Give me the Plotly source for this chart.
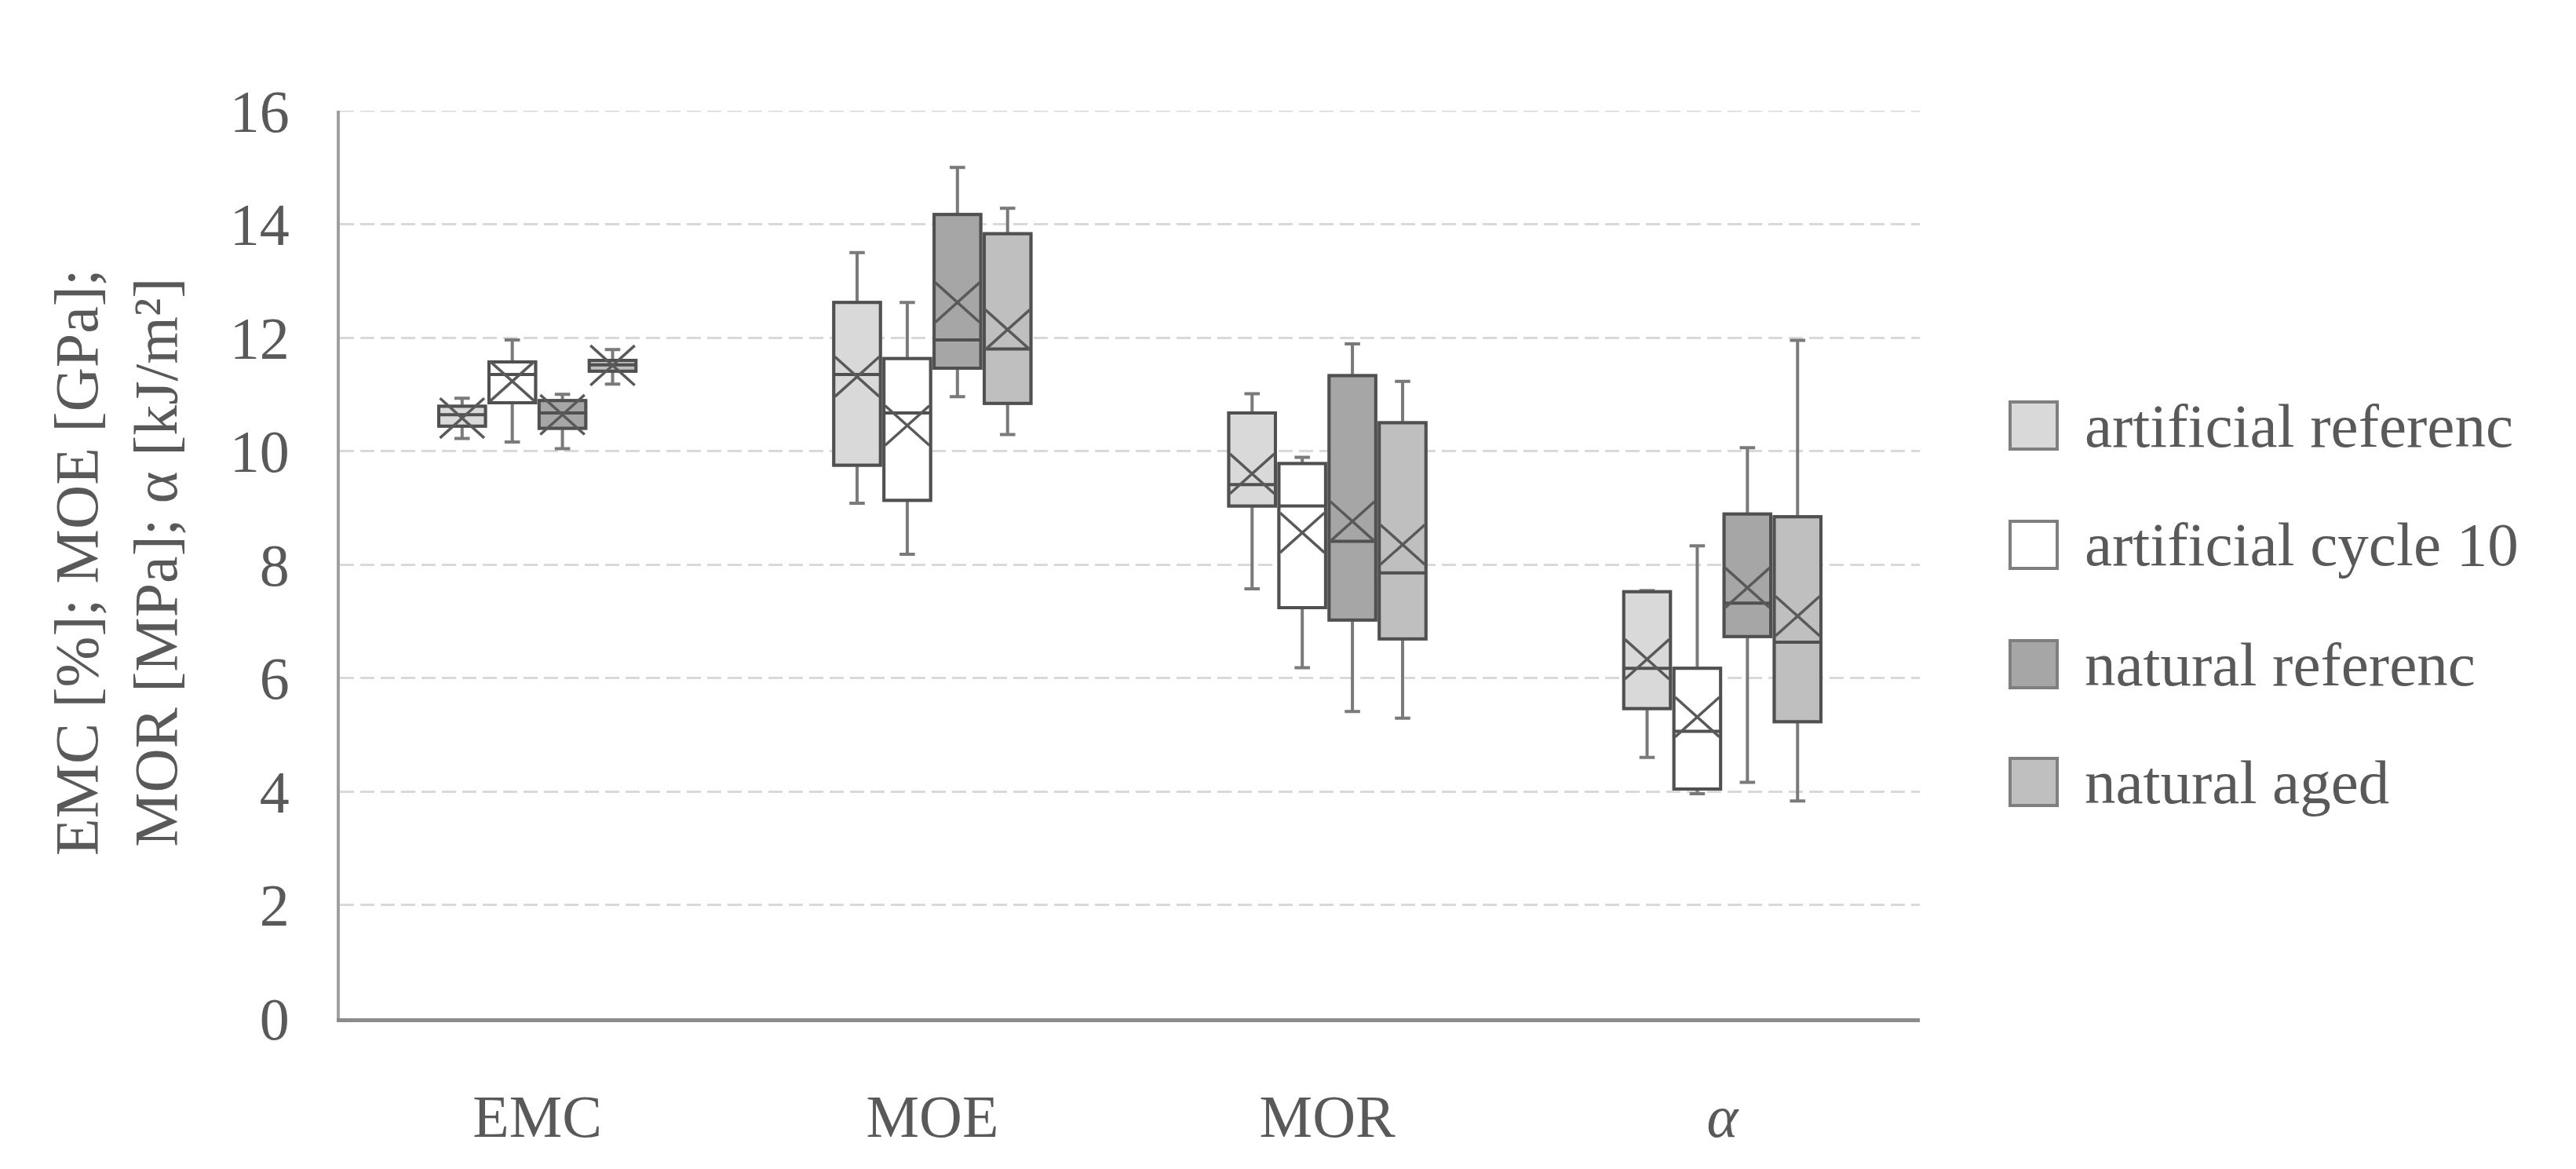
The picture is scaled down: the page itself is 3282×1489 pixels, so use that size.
import plotly.graph_objects as go

# ---------------- data ----------------
CATEGORIES = ["EMC", "MOE", "MOR", "<i>α</i>"]
SERIES = ["artificial referenc", "artificial cycle 10", "natural referenc", "natural aged"]

art_ref_lower = [10.22, 9.08, 7.57, 4.60]
art_ref_q1 = [10.44, 9.75, 9.03, 5.46]
art_ref_median = [10.64, 11.35, 9.41, 6.17]
art_ref_q3 = [10.79, 12.62, 10.67, 7.52]
art_ref_upper = [10.93, 13.50, 11.01, 7.54]
art_ref_mean = [10.58, 11.31, 9.60, 6.33]

art_cyc_lower = [10.16, 8.18, 6.18, 3.96]
art_cyc_q1 = [10.85, 9.13, 7.24, 4.04]
art_cyc_median = [11.35, 10.67, 9.03, 5.06]
art_cyc_q3 = [11.57, 11.63, 9.78, 6.17]
art_cyc_upper = [11.96, 12.62, 9.89, 8.33]
art_cyc_mean = [11.23, 10.45, 8.56, 5.31]

nat_ref_lower = [10.04, 10.96, 5.41, 4.16]
nat_ref_q1 = [10.40, 11.46, 7.02, 6.73]
nat_ref_median = [10.67, 11.96, 8.41, 7.32]
nat_ref_q3 = [10.89, 14.17, 11.33, 8.89]
nat_ref_upper = [11.00, 15.00, 11.89, 10.06]
nat_ref_mean = [10.64, 12.62, 8.76, 7.59]

nat_aged_lower = [11.18, 10.29, 5.29, 3.83]
nat_aged_q1 = [11.41, 10.84, 6.69, 5.23]
nat_aged_median = [11.52, 11.80, 7.85, 6.63]
nat_aged_q3 = [11.60, 13.83, 10.50, 8.84]
nat_aged_upper = [11.79, 14.28, 11.23, 11.95]
nat_aged_mean = [11.51, 12.14, 8.35, 7.09]

Y_TICKS = [0, 2, 4, 6, 8, 10, 12, 14, 16]

# ---------------- styling ----------------
FILLS = ["#d9d9d9", "#ffffff", "#a6a6a6", "#bfbfbf"]
BOX_LINE = "#505050"
WHISKER = "#7a7a7a"
XLINE = "#595959"
TEXT = "#595959"
FONT = "Liberation Serif"
FS = 76
LEG_FS = 79

W, H = 3282, 1489
PL, PR, PT, PB = 425, 2438, 133, 1289  # plot area in pixels

BOX_W = 0.118
STEP = 0.127
X_HALF_H = 0.35

stats = [
    (art_ref_lower, art_ref_q1, art_ref_median, art_ref_q3, art_ref_upper, art_ref_mean),
    (art_cyc_lower, art_cyc_q1, art_cyc_median, art_cyc_q3, art_cyc_upper, art_cyc_mean),
    (nat_ref_lower, nat_ref_q1, nat_ref_median, nat_ref_q3, nat_ref_upper, nat_ref_mean),
    (nat_aged_lower, nat_aged_q1, nat_aged_median, nat_aged_q3, nat_aged_upper, nat_aged_mean),
]

fig = go.Figure()
cat_idx = list(range(len(CATEGORIES)))

for s, (name, st) in enumerate(zip(SERIES, stats)):
    lo, q1, med, q3, up, mean = st
    off = (s - (len(SERIES) - 1) / 2) * STEP
    xs = [i + off for i in cat_idx]
    # whiskers (lighter grey)
    fig.add_trace(go.Box(
        name=name, x=xs, q1=q1, median=med, q3=q3,
        lowerfence=lo, upperfence=up,
        width=BOX_W, whiskerwidth=0.33,
        fillcolor=FILLS[s], line=dict(color=WHISKER, width=4),
        boxpoints=False, showlegend=False, hoverinfo="skip",
    ))
    # box body and median (darker outline)
    fig.add_trace(go.Box(
        name=name, x=xs, q1=q1, median=med, q3=q3,
        lowerfence=q1, upperfence=q3,
        width=BOX_W, whiskerwidth=0,
        fillcolor=FILLS[s], line=dict(color=BOX_LINE, width=4),
        boxpoints=False, showlegend=False, hoverinfo="skip",
    ))
    # mean "X" markers (Excel style)
    mx, my = [], []
    hw = BOX_W / 2 * 0.95
    for x, m in zip(xs, mean):
        mx += [x - hw, x + hw, None, x - hw, x + hw, None]
        my += [m + X_HALF_H, m - X_HALF_H, None, m - X_HALF_H, m + X_HALF_H, None]
    fig.add_trace(go.Scatter(
        x=mx, y=my, mode="lines", line=dict(color=XLINE, width=3.5),
        showlegend=False, hoverinfo="skip",
    ))

# ---------------- layout ----------------
pw, ph = PR - PL, PB - PT


def px_x(p):
    return (p - PL) / pw


def px_y(p):
    return (PB - p) / ph


fig.update_layout(
    width=W, height=H, autosize=False,
    margin=dict(l=PL, r=W - PR, t=PT, b=H - PB),
    paper_bgcolor="white", plot_bgcolor="white",
    boxmode="overlay", showlegend=False,
    font=dict(family=FONT, size=FS, color=TEXT),
    xaxis=dict(
        range=[-0.5, len(CATEGORIES) - 0.5],
        tickvals=cat_idx, ticktext=CATEGORIES,
        showgrid=False, zeroline=False,
        showline=True, linecolor="#8c8c8c", linewidth=5,
        ticks="", ticklabelstandoff=55,
        tickfont=dict(family=FONT, size=FS, color=TEXT),
    ),
    yaxis=dict(
        range=[0, 16], tickvals=Y_TICKS,
        showgrid=True, gridcolor="#d9d9d9", gridwidth=3, griddash="18px,8px",
        zeroline=False, showline=True, linecolor="#a0a0a0", linewidth=4,
        ticks="", ticklabelstandoff=45,
        tickfont=dict(family=FONT, size=FS, color=TEXT),
    ),
)

# top gridline (at the range edge, not drawn by the axis itself)
fig.add_shape(
    type="line", xref="paper", yref="y", x0=0, x1=1, y0=Y_TICKS[-1], y1=Y_TICKS[-1],
    line=dict(color="#d9d9d9", width=3, dash="18px,8px"), layer="below",
)

# y-axis title
fig.add_annotation(
    text="EMC [%]; MOE [GPa];<br>MOR [MPa]; α [kJ/m²]",
    xref="paper", yref="paper", x=px_x(140), y=px_y(709),
    xanchor="center", yanchor="middle", textangle=-90, showarrow=False,
    font=dict(family=FONT, size=78, color=TEXT),
)

# legend (drawn manually to match the large swatches)
LEG_Y = [534, 686, 838, 988]
SW_L, SW_R, SW_H = 2553, 2613, 60
TXT_L = 2646
for s, name in enumerate(SERIES):
    cy = LEG_Y[s]
    fig.add_shape(
        type="rect", xref="paper", yref="paper",
        x0=px_x(SW_L), x1=px_x(SW_R), y0=px_y(cy + SW_H / 2), y1=px_y(cy - SW_H / 2),
        fillcolor=FILLS[s], line=dict(color="#7f7f7f", width=4),
    )
    fig.add_annotation(
        text=name, xref="paper", yref="paper", x=px_x(TXT_L), y=px_y(cy),
        xanchor="left", yanchor="middle", showarrow=False,
        font=dict(family=FONT, size=LEG_FS, color=TEXT),
    )

fig.write_html("out.html")
